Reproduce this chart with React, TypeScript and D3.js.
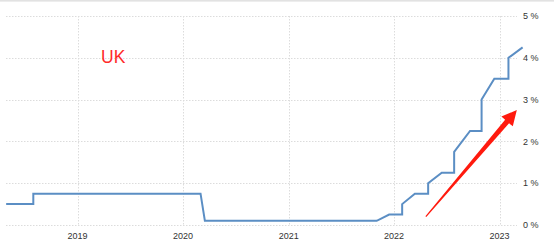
import React from "react";
import * as d3 from "d3";

const W = 554;
const H = 252;

// Bank Rate vertices (date, % value)
const dates = [
  "2018-04-29", "2018-08-01", "2018-08-01", "2020-03-02", "2020-03-17",
  "2021-11-02", "2021-12-15", "2022-01-29", "2022-01-29", "2022-03-14",
  "2022-04-29", "2022-04-29", "2022-06-15", "2022-07-28", "2022-07-28",
  "2022-09-21", "2022-10-31", "2022-10-31", "2022-12-14", "2023-02-01",
  "2023-02-01", "2023-03-22",
];
const rates = [
  0.5, 0.5, 0.75, 0.75, 0.1,
  0.1, 0.25, 0.25, 0.5, 0.75,
  0.75, 1.0, 1.25, 1.25, 1.75,
  2.25, 2.25, 3.0, 3.5, 3.5,
  4.0, 4.25,
];

const yearTicks = ["2019", "2020", "2021", "2022", "2023"];
const yTicks = [0, 1, 2, 3, 4, 5];
const yTickLabels = ["0 %", "1 %", "2 %", "3 %", "4 %", "5 %"];

const title = "UK";
// annotation arrow in data coordinates
const arrowFrom = { date: "2022-04-21", value: 0.2 };
const arrowTo = { date: "2023-03-02", value: 2.75 };

const parse = d3.timeParse("%Y-%m-%d");

export default function App() {
  const x = d3
    .scaleTime()
    .domain([parse("2019-01-01")!, parse("2023-01-01")!])
    .range([77.5, 499.5]);
  const y = d3.scaleLinear().domain([0, 5]).range([225, 16]);

  const pts: [Date, number][] = dates.map((d, i) => [parse(d)!, rates[i]]);
  const line = d3
    .line<[Date, number]>()
    .x((d) => x(d[0]))
    .y((d) => y(d[1]));

  const gridLeft = 6;
  const gridRight = 517;

  // arrow
  const ax0 = x(parse(arrowFrom.date)!);
  const ay0 = y(arrowFrom.value);
  const ax1 = x(parse(arrowTo.date)!);
  const ay1 = y(arrowTo.value);
  const dx = ax1 - ax0;
  const dy = ay1 - ay0;
  const len = Math.sqrt(dx * dx + dy * dy);
  const ux = dx / len;
  const uy = dy / len;
  const nx = -uy;
  const ny = ux;
  const headLen = 15;
  const headHalf = 7.5;
  const bx = ax1 - ux * headLen;
  const by = ay1 - uy * headLen;
  const tailHalf = 0.6;
  const neckHalf = 2.6;
  const arrowPath = [
    [ax0 + nx * tailHalf, ay0 + ny * tailHalf],
    [bx + nx * neckHalf, by + ny * neckHalf],
    [bx + nx * headHalf, by + ny * headHalf],
    [ax1, ay1],
    [bx - nx * headHalf, by - ny * headHalf],
    [bx - nx * neckHalf, by - ny * neckHalf],
    [ax0 - nx * tailHalf, ay0 - ny * tailHalf],
  ]
    .map((p, i) => (i === 0 ? "M" : "L") + p[0].toFixed(2) + "," + p[1].toFixed(2))
    .join("") + "Z";

  return (
    <svg
      width={W}
      height={H}
      style={{ position: "absolute", left: 0, top: 0, background: "#fff" }}
      fontFamily="'Liberation Sans', Arial, sans-serif"
    >
      <rect x={0} y={0} width={W} height={H} fill="#fff" />
      <rect x={0} y={0} width={W} height={1.6} fill="#e2e2e2" />
      {/* horizontal grid */}
      {yTicks.map((t) => (
        <line
          key={"h" + t}
          x1={gridLeft}
          x2={gridRight}
          y1={Math.round(y(t)) + 0.5}
          y2={Math.round(y(t)) + 0.5}
          stroke="#dcdcdc"
          strokeWidth={1}
          strokeDasharray="1.5,1.5"
        />
      ))}
      {/* vertical grid */}
      {yearTicks.map((t) => {
        const xx = Math.round(x(parse(t + "-01-01")!)) + 0.5;
        return (
          <line
            key={"v" + t}
            x1={xx}
            x2={xx}
            y1={y(5)}
            y2={y(0)}
            stroke="#dcdcdc"
            strokeWidth={1}
            strokeDasharray="1.5,1.5"
          />
        );
      })}
      {/* y labels */}
      {yTicks.map((t, i) => (
        <text
          key={"yl" + t}
          x={523}
          y={y(t)}
          dy="0.35em"
          fontSize={9}
          fill="#333"
        >
          {yTickLabels[i]}
        </text>
      ))}
      {/* x labels */}
      {yearTicks.map((t) => (
        <text
          key={"xl" + t}
          x={x(parse(t + "-01-01")!)}
          y={239}
          textAnchor="middle"
          fontSize={9}
          fill="#333"
        >
          {t}
        </text>
      ))}
      <path
        d={line(pts) || ""}
        fill="none"
        stroke="#5b8ec4"
        strokeWidth={2}
        strokeLinejoin="miter"
      />
      <path d={arrowPath} fill="#ff1a0e" />
      <text x={101} y={62.5} fontSize={17.5} fill="#ff2a2a">
        {title}
      </text>
    </svg>
  );
}
